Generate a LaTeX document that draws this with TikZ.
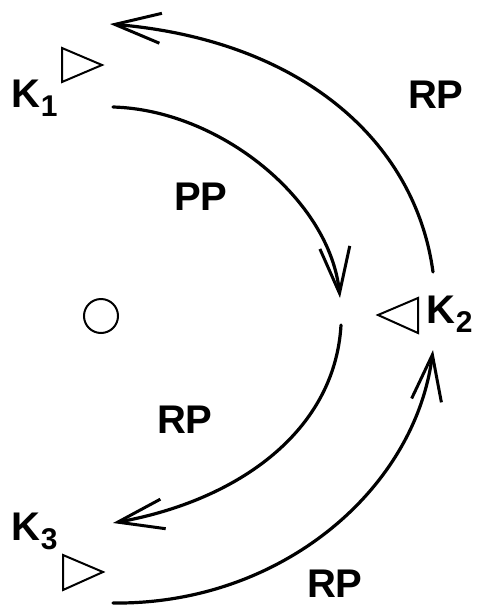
\documentclass[tikz,border=0pt]{standalone}
\usepackage{fontspec}
\setmainfont{Liberation Sans}
\usepackage{tikz}
\usetikzlibrary{arrows.meta, positioning, calc}

\newcommand{\klabel}[1]{K\kern1pt\raisebox{-9pt}{\fontsize{30}{30}\selectfont #1}}

\begin{document}
\begin{tikzpicture}[
    x=1pt, y=-1pt,
    % ── styles ──
    lbl/.style={anchor=base west, inner sep=0pt, outer sep=0pt,
                font=\fontsize{40}{40}\selectfont\bfseries},
    marker/.style={draw, line width=2pt, line join=miter},
    arr/.style={line width=3.2pt, line cap=round,
                -{Straight Barb[length=46pt, width=30pt, line width=3pt]}}
]
\useasboundingbox (0,0) rectangle (480,606);

% ═══ Labels ═══
\node[lbl] (k1) at (11,107) {\klabel{1}};
\node[lbl] (k2) at (426,323) {\klabel{2}};
\node[lbl] (k3) at (11,540) {\klabel{3}};
\node[lbl] (rptop) at (408,108) {RP};
\node[lbl] (pp)    at (174,210) {PP};
\node[lbl] (rpmid) at (157,433) {RP};
\node[lbl] (rpbot) at (307,597) {RP};

% ═══ Markers ═══
\draw[marker] (62,48) -- (62,82) -- (102,65) -- cycle;
\draw[marker] (418,298) -- (418,333) -- (378,315) -- cycle;
\draw[marker] (63,555) -- (63,590) -- (103,572) -- cycle;
\node[draw, circle, line width=2pt, minimum size=34pt, inner sep=0pt] (o) at (101,316) {};

% ═══ Arc end points ═══
\coordinate (outA) at (433,272);
\coordinate (outB) at (110,24);
\coordinate (ppA)  at (113,107);
\coordinate (ppB)  at (340,298);
\coordinate (rpA)  at (341,325);
\coordinate (rpB)  at (113,523);
\coordinate (lowA) at (113,603);
\coordinate (lowB) at (433,350);

% ═══ Arrows ═══
\draw[arr] (outA) .. controls (415,140) and (300,40) .. (outB);
\draw[arr] (ppA) .. controls (220,110) and (330,200) .. (ppB);
\draw[arr] (rpA) .. controls (335,430) and (240,500) .. (rpB);
\draw[arr] (lowA) .. controls (280,605) and (415,490) .. (lowB);

\end{tikzpicture}
\end{document}
